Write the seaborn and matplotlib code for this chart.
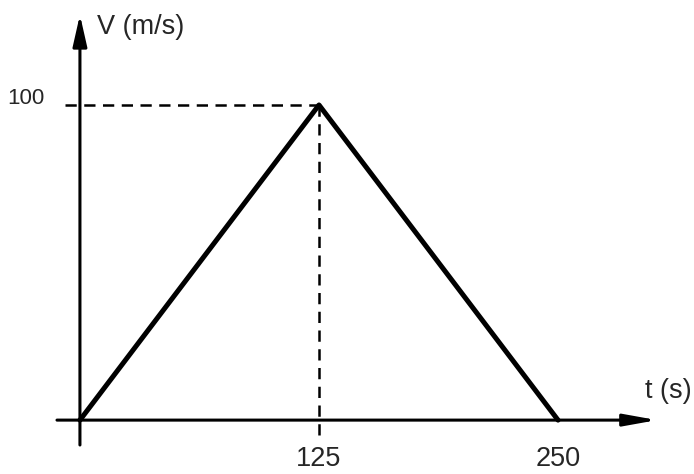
import matplotlib
matplotlib.use("Agg")
import matplotlib.pyplot as plt
import seaborn as sns

sns.set_style("white")
plt.rcParams['font.family'] = ['Liberation Sans Narrow', 'Liberation Sans', 'DejaVu Sans']

# DATA

t = [0, 125, 250]
v = [0, 100, 0]

x_ticks = [125, 250]
y_ticks = [100]
x_label = "t (s)"
y_label = "V (m/s)"


# FIGURE

fig = plt.figure(figsize=(6.94, 4.74), dpi=100)
ax = fig.add_axes([0, 0, 1, 1])
ax.set_xlim(-41.8, 321.1)
ax.set_ylim(-17.1, 133.3)
ax.axis('off')

# axes with arrow heads
ax.annotate('', xy=(301.8, 0), xytext=(-12, 0),
            arrowprops=dict(arrowstyle='-|>,head_length=2.0,head_width=0.36',
                            mutation_scale=10, lw=2.2, color='black',
                            shrinkA=0, shrinkB=0))
ax.annotate('', xy=(0, 128.6), xytext=(0, -7.9),
            arrowprops=dict(arrowstyle='-|>,head_length=1.9,head_width=0.43',
                            mutation_scale=10, lw=2.2, color='black',
                            shrinkA=0, shrinkB=0))

# guides to the peak
peak_t = t[1]
peak_v = v[1]
ax.plot([-7.8, peak_t], [peak_v, peak_v], color='black', lw=1.8,
        dashes=(4.5, 3))
ax.plot([peak_t, peak_t], [peak_v, -7], color='black', lw=1.8,
        dashes=(4.5, 3))

# the velocity curve
sns.lineplot(x=t, y=v, ax=ax, color='black', lw=3.6)

# labels
for xt in x_ticks:
    ax.text(xt, -12.4, str(xt), ha='center', va='center', fontsize=19.5)
for yt in y_ticks:
    ax.text(-18.3, yt + 2.2, str(yt), ha='right', va='center', fontsize=16)

ax.text(8.9, 124.8, y_label, ha='left', va='center', fontsize=19.5)
ax.text(295.5, 9.2, x_label, ha='left', va='center', fontsize=19.5)

fig.savefig("out.png", dpi=100)
